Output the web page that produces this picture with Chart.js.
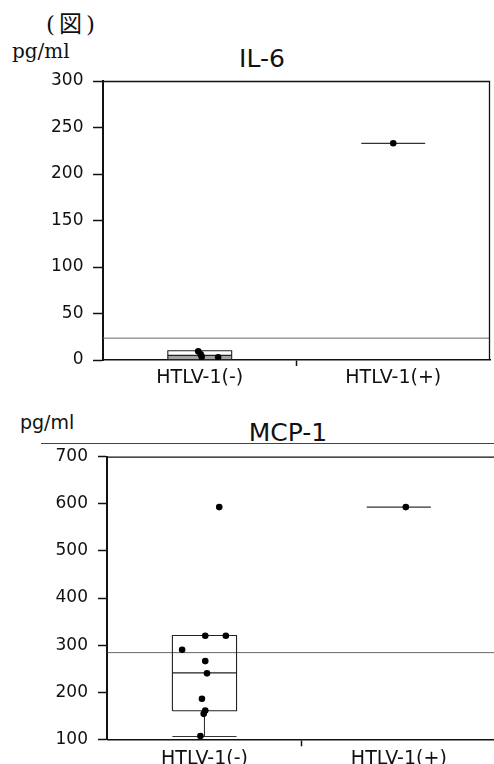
<!DOCTYPE html>
<html><head><meta charset="utf-8">
<script src="https://cdn.jsdelivr.net/npm/chart.js@4.4.1/dist/chart.umd.min.js"></script>
<style>
html,body{margin:0;padding:0;background:#fff;overflow:hidden;width:494px;height:764px;position:relative;}
.t{position:absolute;white-space:nowrap;line-height:1;color:#111;}
canvas{position:absolute;left:0;}
</style></head><body>
<div class="t" style="left:46px;top:13px;font-size:23px;letter-spacing:4px;font-family:'DejaVu Serif','Noto Sans CJK JP';">(図)</div>
<div class="t" style="left:12px;top:41px;font-size:20px;font-family:'DejaVu Serif';">pg/ml</div>
<div class="t" style="left:162px;width:200px;text-align:center;top:46px;font-size:25px;font-family:'DejaVu Sans';">IL-6</div>
<div class="t" style="left:20px;top:413px;font-size:19px;font-family:'DejaVu Sans';">pg/ml</div>
<div class="t" style="left:188px;width:200px;text-align:center;top:420px;font-size:25px;font-family:'DejaVu Sans';">MCP-1</div>
<canvas id="c1" width="494" height="395" style="top:0"></canvas>
<canvas id="c2" width="500" height="369" style="top:395px"></canvas>
<script>
// ---- data ----
const categories = ['HTLV-1(-)', 'HTLV-1(+)'];

const il6YTicks = [0, 50, 100, 150, 200, 250, 300];
const il6NegValues = [9.3, 6, 3.6, 2.9];
const il6NegJitter = [-0.008, 0.005, 0.01, 0.095];
const il6PosValues = [233];
const il6PosJitter = [0];
const il6Q1 = [0.5, 233];
const il6Median = [5, 233];
const il6Q3 = [10, 233];
const il6WhiskerLow = [0.5, 233];
const il6Reference = 23.5;

const mcp1YTicks = [100, 200, 300, 400, 500, 600, 700];
const mcp1NegValues = [593, 320, 320, 290, 266, 240, 186, 161, 154, 107];
const mcp1NegJitter = [0.076, 0.004, 0.11, -0.115, 0.004, 0.013, -0.013, 0.004, -0.004, -0.021];
const mcp1PosValues = [593];
const mcp1PosJitter = [0.036];
const mcp1Q1 = [160.7, 593];
const mcp1Median = [241, 593];
const mcp1Q3 = [320.5, 593];
const mcp1WhiskerLow = [106, 593];
const mcp1Reference = 284;

// ---- builders ----
const BOX_HALF = 0.165;

function pointSet(values, jitter, cat) {
  return {
    type: 'scatter', order: 0,
    data: values.map((v, i) => ({x: cat + jitter[i], y: v})),
    pointRadius: 3.3, pointBackgroundColor: '#000', pointBorderColor: '#000', pointBorderWidth: 0
  };
}
function lineSet(points, color, width, extra) {
  return Object.assign({
    type: 'scatter', order: 1, showLine: true, spanGaps: false,
    data: points, borderColor: color, borderWidth: width, pointRadius: 0
  }, extra || {});
}
function boxSets(q1, med, q3, lo, fillLower) {
  const sets = [];
  categories.forEach((c, i) => {
    const x = i + 1, l = x - BOX_HALF, r = x + BOX_HALF;
    if (q1[i] === q3[i]) {
      sets.push(lineSet([{x: l, y: med[i]}, {x: r, y: med[i]}], '#333', 1.2));
      return;
    }
    if (fillLower) {
      sets.push(lineSet([{x: l, y: q1[i]}, {x: r, y: q1[i]}, {x: r, y: med[i] - 0.7}, {x: l, y: med[i] - 0.7}, {x: l, y: q1[i]}],
        'rgba(0,0,0,0)', 0, {fill: 'shape', backgroundColor: 'rgba(90,90,90,0.55)', order: 2}));
    }
    sets.push(lineSet([{x: l, y: q1[i]}, {x: r, y: q1[i]}, {x: r, y: q3[i]}, {x: l, y: q3[i]}, {x: l, y: q1[i]}], '#222', 1.1));
    sets.push(lineSet([{x: l, y: med[i]}, {x: r, y: med[i]}], '#222', 1.1));
    sets.push(lineSet([{x: x, y: q1[i]}, {x: x, y: lo[i]}, {x: x, y: null}, {x: l, y: lo[i]}, {x: r, y: lo[i]}], '#333', 1.1));
  });
  return sets;
}
function refSet(v) {
  return lineSet([{x: 0.5, y: v}, {x: 2.5, y: v}], '#666', 1, {order: 3});
}

const framePlugin = {
  id: 'frame',
  afterDraw(chart, args, opts) {
    const {ctx, chartArea: a} = chart;
    ctx.save();
    ctx.strokeStyle = '#111';
    ctx.lineWidth = 1.3;
    ctx.beginPath();
    ctx.moveTo(a.left, a.top + 0.5);
    ctx.lineTo(a.right - 0.5, a.top + 0.5);
    ctx.lineTo(a.right - 0.5, a.bottom);
    ctx.stroke();
    if (opts && opts.rule) {
      ctx.strokeStyle = '#444';
      ctx.lineWidth = 1;
      ctx.beginPath();
      ctx.moveTo(opts.rule.left, a.top - opts.rule.offset + 0.5);
      ctx.lineTo(chart.width, a.top - opts.rule.offset + 0.5);
      ctx.stroke();
    }
    ctx.restore();
  }
};

function makeChart(id, datasets, yTicks, cfg) {
  return new Chart(document.getElementById(id), {
    type: 'scatter',
    data: {datasets},
    plugins: [framePlugin],
    options: {
      responsive: false, animation: false, devicePixelRatio: 1,
      layout: {padding: {top: cfg.top, right: cfg.right, bottom: 0, left: 0}},
      plugins: {legend: {display: false}, tooltip: {enabled: false}, frame: {rule: cfg.rule}},
      scales: {
        x: {
          type: 'linear', min: 0.5, max: 2.5,
          afterBuildTicks: s => { s.ticks = [{value: 1}, {value: 1.5}, {value: 2}]; },
          afterFit: s => { s.height = cfg.xh; },
          ticks: {
            autoSkip: false, maxRotation: 0, minRotation: 0, padding: cfg.xpad, color: '#111',
            font: {family: 'DejaVu Sans', size: 19},
            callback: v => v === 1 ? categories[0] : (v === 2 ? categories[1] : '')
          },
          grid: {
            drawOnChartArea: false, tickLength: cfg.xtick, tickWidth: 1.5,
            tickColor: c => (c.tick && c.tick.value === 1.5) ? '#111' : 'rgba(0,0,0,0)'
          },
          border: {color: '#111', width: 1.5}
        },
        y: {
          type: 'linear', min: yTicks[0], max: yTicks[yTicks.length - 1],
          afterBuildTicks: s => { s.ticks = yTicks.map(v => ({value: v})); },
          afterFit: s => { s.width = cfg.yw; },
          ticks: {padding: cfg.ypad, color: '#111', font: {family: 'DejaVu Sans', size: 17}},
          grid: {drawOnChartArea: false, tickLength: cfg.ytick, tickWidth: 1.5, tickColor: '#111'},
          border: {color: '#111', width: 2}
        }
      }
    }
  });
}

makeChart('c1', [
  pointSet(il6NegValues, il6NegJitter, 1),
  pointSet(il6PosValues, il6PosJitter, 2),
  ...boxSets(il6Q1, il6Median, il6Q3, il6WhiskerLow, true),
  refSet(il6Reference)
], il6YTicks, {top: 81, right: 3, xh: 35, xtick: 6, xpad: 1, yw: 103, ytick: 10, ypad: 9.5});

makeChart('c2', [
  pointSet(mcp1NegValues, mcp1NegJitter, 1),
  pointSet(mcp1PosValues, mcp1PosJitter, 2),
  ...boxSets(mcp1Q1, mcp1Median, mcp1Q3, mcp1WhiskerLow, false),
  refSet(mcp1Reference)
], mcp1YTicks, {top: 61.7, right: 1.3, xh: 24.7, xtick: 7, xpad: 1, yw: 107.3, ytick: 9.3, ypad: 10, rule: {left: 41, offset: 13.7}});
</script>
</body></html>
